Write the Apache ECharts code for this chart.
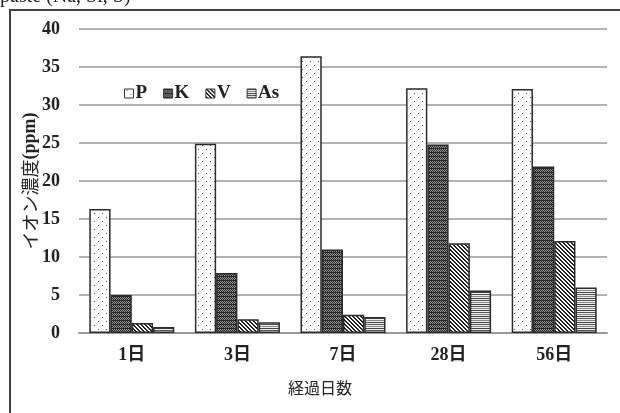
<!DOCTYPE html>
<html>
<head>
<meta charset="utf-8">
<script src="https://cdn.jsdelivr.net/npm/echarts@6/dist/echarts.min.js"></script>
<style>
  html, body { margin: 0; padding: 0; background: #fff; }
  #chart { width: 620px; height: 413px; }
</style>
</head>
<body>
<div id="chart"></div>
<script>
// Elapsed days and ion concentrations (ppm)
const days = ['1日', '3日', '7日', '28日', '56日'];
const ionP  = [16.3, 24.9, 36.4, 32.2, 32.1];
const ionK  = [5.0, 7.9, 11.0, 24.8, 21.9];
const ionV  = [1.3, 1.8, 2.4, 11.8, 12.1];
const ionAs = [0.8, 1.4, 2.1, 5.6, 6.0];
const yTicks = { min: 0, max: 40, interval: 5 };

const serif = '"Liberation Serif", "Noto Sans CJK JP", serif';
const sans = '"Noto Sans CJK JP", sans-serif';

// Fill patterns for the bars, painted on small tiles
function tile(w, h, paint) {
  const c = document.createElement('canvas');
  c.width = w; c.height = h;
  const g = c.getContext('2d');
  paint(g, w, h);
  return { image: c, repeat: 'repeat' };
}
const dotFill = tile(8, 8, (g) => {
  g.fillStyle = '#fff'; g.fillRect(0, 0, 8, 8);
  g.fillStyle = '#555';
  g.fillRect(2, 1, 1, 1);
  g.fillRect(6, 5, 1, 1);
});
const checkFill = tile(4, 4, (g) => {
  g.fillStyle = '#9a9a9a'; g.fillRect(0, 0, 4, 4);
  g.fillStyle = '#262626';
  for (let y = 0; y < 4; y++) for (let x = 0; x < 4; x++) if ((x + y) % 2 === 0) g.fillRect(x, y, 1, 1);
  g.fillRect(0, 0, 4, 1);
});
const diagFill = tile(4, 4, (g) => {
  g.fillStyle = '#fff'; g.fillRect(0, 0, 4, 4);
  g.fillStyle = '#222';
  for (let i = 0; i < 4; i++) { g.fillRect(i, i, 1, 1); g.fillRect((i + 1) % 4, i, 1, 1); }
});
const hFill = tile(4, 6, (g) => {
  g.fillStyle = '#eee'; g.fillRect(0, 0, 4, 6);
  g.fillStyle = '#555'; g.fillRect(0, 0, 4, 1);
  g.fillStyle = '#888'; g.fillRect(0, 2, 4, 1);
  g.fillStyle = '#444'; g.fillRect(0, 4, 4, 1);
});

const chart = echarts.init(document.getElementById('chart'), null, { renderer: 'canvas' });

function barSeries(name, data, fill) {
  return {
    name, type: 'bar', data,
    barGap: '0%', barCategoryGap: '19.5%',
    itemStyle: { color: fill, borderColor: '#2b2b2b', borderWidth: 1.5 },
    emphasis: { disabled: true },
    animation: false
  };
}

chart.setOption({
  animation: false,
  grid: { left: 79, right: 13, top: 29, bottom: 80, containLabel: false },
  legend: {
    left: 119, top: 79,
    itemWidth: 9, itemHeight: 9, itemGap: 16,
    icon: 'rect',
    textStyle: { fontFamily: serif, fontWeight: 'bold', fontSize: 19, color: '#222', padding: [0, 0, 0, -3] },
    data: ['P', 'K', 'V', 'As'],
    itemStyle: { borderColor: '#333', borderWidth: 1 }
  },
  xAxis: {
    type: 'category', data: days,
    axisLine: { lineStyle: { color: '#999', width: 2 } },
    axisTick: { show: false },
    axisLabel: { fontFamily: serif, fontWeight: 'bold', fontSize: 18, color: '#222', margin: 13 }
  },
  yAxis: {
    type: 'value', min: yTicks.min, max: yTicks.max, interval: yTicks.interval,
    axisLine: { show: false },
    axisTick: { show: false },
    splitLine: { lineStyle: { color: '#999', width: 1.5 } },
    axisLabel: { fontFamily: serif, fontWeight: 'bold', fontSize: 18, color: '#222', margin: 19 }
  },
  series: [
    barSeries('P', ionP, dotFill),
    barSeries('K', ionK, checkFill),
    barSeries('V', ionV, diagFill),
    barSeries('As', ionAs, hFill)
  ],
  graphic: [
    { type: 'rect', silent: true, shape: { x: 10, y: 10, width: 700, height: 500 },
      style: { fill: null, stroke: '#444', lineWidth: 2 } },
    { type: 'text', silent: true, x: 0, y: -13,
      style: { text: 'paste (Na, Si, S)', font: '20px "Liberation Serif", serif', fill: '#222' } },
    { type: 'text', silent: true, x: 320, y: 388,
      style: { text: '経過日数', font: '16px ' + sans, fill: '#222', align: 'center', verticalAlign: 'middle' } },
    { type: 'text', silent: true, x: 30, y: 181, rotation: Math.PI / 2,
      style: {
        text: '{j|イオン濃度}{p|(ppm)}', align: 'center', verticalAlign: 'middle',
        rich: {
          j: { fontFamily: sans, fontSize: 18, fill: '#222' },
          p: { fontFamily: serif, fontWeight: 'bold', fontSize: 18, fill: '#222' }
        }
      } }
  ]
});
</script>
</body>
</html>
